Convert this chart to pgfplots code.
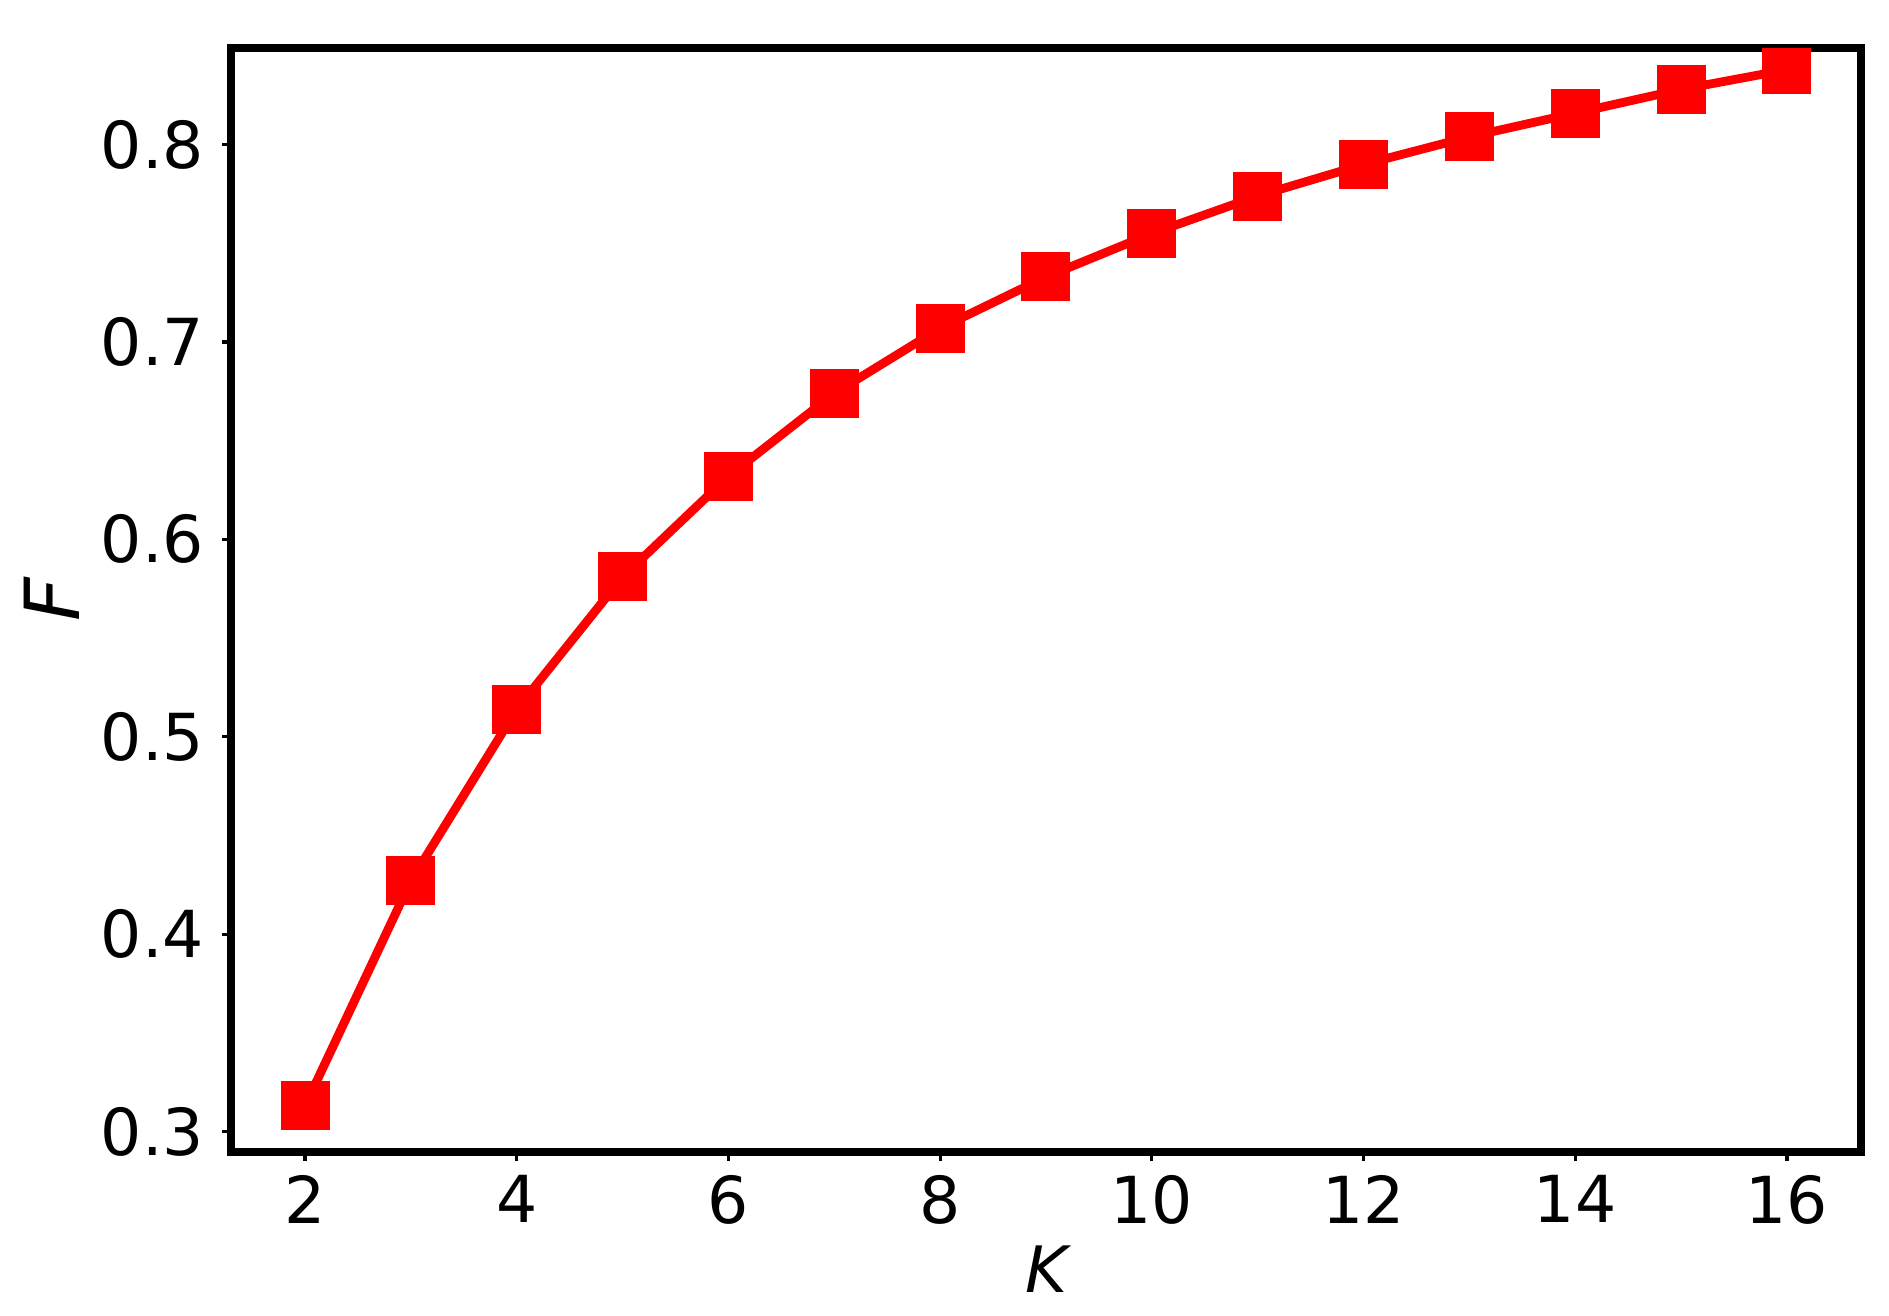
\documentclass[border=0pt]{standalone}
\usepackage{fontspec}
\setmainfont{DejaVu Sans}
\usepackage{pgfplots}
\pgfplotsset{compat=1.18}
\begin{document}
\begin{tikzpicture}
\begin{axis}[
 at={(0,0)}, anchor=south west,
 scale only axis, width=407.5pt, height=276pt,
 xmin=1.3, xmax=16.7, ymin=0.2896, ymax=0.849,
 xtick={2,4,6,8,10,12,14,16},
 ytick={0.3,0.4,0.5,0.6,0.7,0.8},
 yticklabel style={xshift=-1pt, /pgf/number format/fixed, /pgf/number format/fixed zerofill, /pgf/number format/precision=1},
 tick align=outside, tick pos=left, major tick length=2.25pt,
 every tick/.style={black, line width=0.8pt},
 axis line style={line width=1.8pt},
 font=\fontsize{16.2}{19}\selectfont,
 /pgf/number format/assume math mode=true,
 xlabel={\fontsize{16}{18}\selectfont\itshape K}, ylabel={\fontsize{19}{21}\selectfont\itshape F},
 xlabel style={yshift=1.5pt},
 ylabel style={yshift=-1.5pt},
 clip marker paths=true,
]
\addplot[red, line width=2.2pt, mark=square*, mark size=6pt, mark options={solid, line width=0pt}] coordinates {
(2,0.313) (3,0.427) (4,0.514) (5,0.581) (6,0.632) (7,0.674) (8,0.707) (9,0.733)
(10,0.755) (11,0.774) (12,0.790) (13,0.804) (14,0.816) (15,0.828) (16,0.838)};
\end{axis}
\path (-57.75pt,-41pt) rectangle (414.5pt,288pt);
\end{tikzpicture}
\end{document}
